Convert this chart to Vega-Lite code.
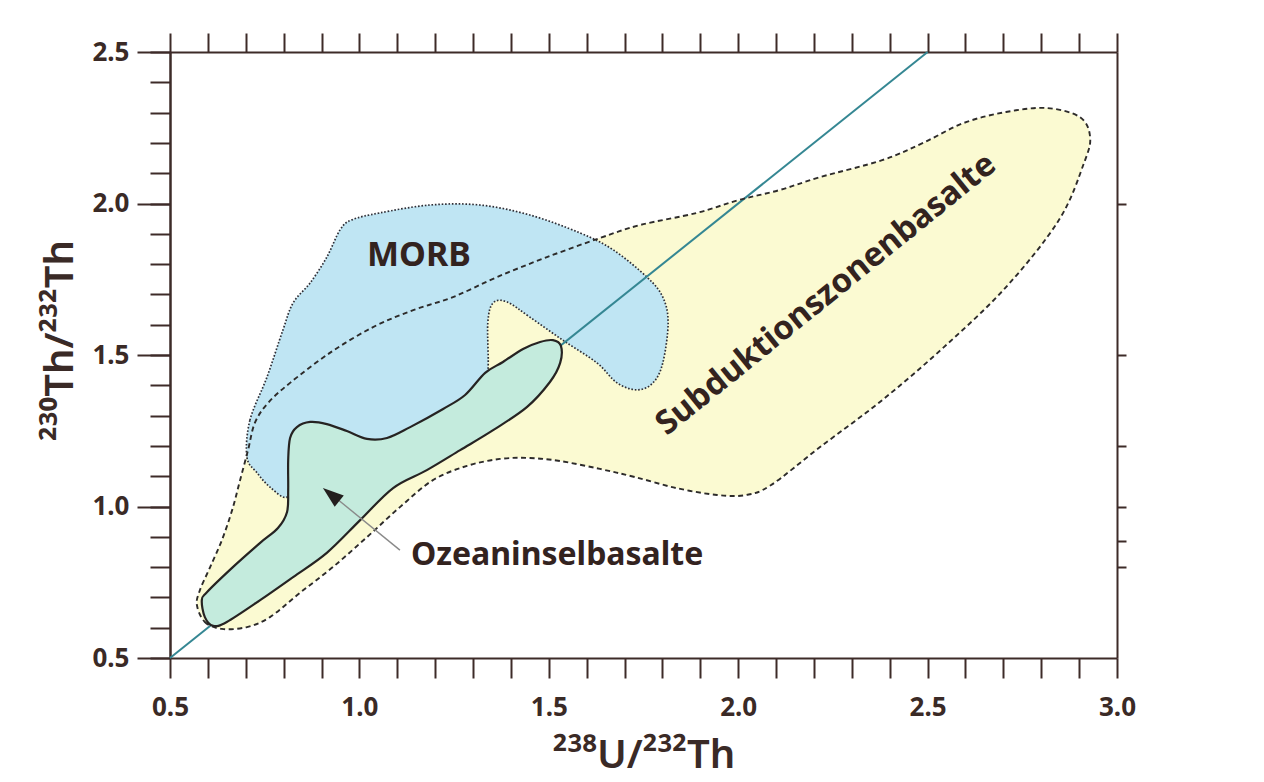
{
  "$schema": "https://vega.github.io/schema/vega-lite/v6.json",
  "width": 947,
  "height": 606,
  "autosize": {"type": "none"},
  "padding": {"left": 170, "top": 52, "right": 147, "bottom": 124},
  "background": "#ffffff",
  "config": {"view": {"stroke": null}, "font": "Noto Sans"},
  "datasets": {
    "sub": [
      {"i":1,"x":0.571,"y":0.675},{"i":2,"x":0.592,"y":0.619},{"i":3,"x":0.637,"y":0.596},{"i":4,"x":0.703,"y":0.602},
      {"i":5,"x":0.764,"y":0.635},{"i":6,"x":0.843,"y":0.715},{"i":7,"x":0.930,"y":0.800},{"i":8,"x":1.020,"y":0.899},
      {"i":9,"x":1.107,"y":0.998},{"i":10,"x":1.194,"y":1.087},{"i":11,"x":1.284,"y":1.134},{"i":12,"x":1.371,"y":1.157},
      {"i":13,"x":1.450,"y":1.160},{"i":14,"x":1.530,"y":1.150},{"i":15,"x":1.635,"y":1.124},{"i":16,"x":1.728,"y":1.097},
      {"i":17,"x":1.836,"y":1.061},{"i":18,"x":1.944,"y":1.038},{"i":19,"x":2.021,"y":1.038},{"i":20,"x":2.087,"y":1.071},
      {"i":21,"x":2.216,"y":1.196},{"i":22,"x":2.380,"y":1.351},{"i":23,"x":2.543,"y":1.526},{"i":24,"x":2.707,"y":1.724},
      {"i":25,"x":2.847,"y":1.946},{"i":26,"x":2.913,"y":2.134},{"i":27,"x":2.929,"y":2.219},{"i":28,"x":2.902,"y":2.285},
      {"i":29,"x":2.815,"y":2.315},{"i":30,"x":2.707,"y":2.302},{"i":31,"x":2.596,"y":2.266},{"i":32,"x":2.488,"y":2.200},
      {"i":33,"x":2.380,"y":2.143},{"i":34,"x":2.216,"y":2.087},{"i":35,"x":2.108,"y":2.044},{"i":36,"x":2.000,"y":2.011},
      {"i":37,"x":1.891,"y":1.969},{"i":38,"x":1.741,"y":1.929},{"i":39,"x":1.635,"y":1.886},{"i":40,"x":1.495,"y":1.823},
      {"i":41,"x":1.363,"y":1.757},{"i":42,"x":1.247,"y":1.691},{"i":43,"x":1.142,"y":1.648},{"i":44,"x":1.036,"y":1.592},
      {"i":45,"x":0.922,"y":1.507},{"i":46,"x":0.817,"y":1.408},{"i":47,"x":0.759,"y":1.342},{"i":48,"x":0.724,"y":1.276},
      {"i":49,"x":0.706,"y":1.186},{"i":50,"x":0.685,"y":1.087},{"i":51,"x":0.664,"y":0.988},{"i":52,"x":0.637,"y":0.889},
      {"i":53,"x":0.606,"y":0.800},{"i":54,"x":0.579,"y":0.724}
    ],
    "morb": [
      {"i":1,"x":0.703,"y":1.163},{"i":2,"x":0.711,"y":1.285},{"i":3,"x":0.756,"y":1.427},{"i":4,"x":0.798,"y":1.582},
      {"i":5,"x":0.825,"y":1.672},{"i":6,"x":0.870,"y":1.738},{"i":7,"x":0.914,"y":1.823},{"i":8,"x":0.949,"y":1.913},
      {"i":9,"x":0.980,"y":1.946},{"i":10,"x":1.054,"y":1.969},{"i":11,"x":1.186,"y":1.995},{"i":12,"x":1.318,"y":1.995},
      {"i":13,"x":1.450,"y":1.962},{"i":14,"x":1.582,"y":1.903},{"i":15,"x":1.670,"y":1.847},{"i":16,"x":1.759,"y":1.757},
      {"i":17,"x":1.801,"y":1.691},{"i":18,"x":1.815,"y":1.606},{"i":19,"x":1.801,"y":1.474},{"i":20,"x":1.775,"y":1.408},
      {"i":21,"x":1.733,"y":1.385},{"i":22,"x":1.680,"y":1.408},{"i":23,"x":1.627,"y":1.474},{"i":24,"x":1.537,"y":1.549},
      {"i":25,"x":1.450,"y":1.625},{"i":26,"x":1.390,"y":1.675},{"i":27,"x":1.353,"y":1.672},{"i":28,"x":1.339,"y":1.606},
      {"i":29,"x":1.339,"y":1.444},{"i":30,"x":1.318,"y":1.351},{"i":31,"x":1.160,"y":1.219},{"i":32,"x":0.975,"y":1.153},
      {"i":33,"x":0.843,"y":1.104},{"i":34,"x":0.809,"y":1.031},{"i":35,"x":0.764,"y":1.064},{"i":36,"x":0.730,"y":1.111}
    ],
    "oib": [
      {"i":1,"x":0.584,"y":0.691},{"i":2,"x":0.598,"y":0.718},{"i":3,"x":0.666,"y":0.800},{"i":4,"x":0.738,"y":0.880},
      {"i":5,"x":0.785,"y":0.929},{"i":6,"x":0.809,"y":0.982},{"i":7,"x":0.812,"y":1.054},{"i":8,"x":0.812,"y":1.153},
      {"i":9,"x":0.817,"y":1.226},{"i":10,"x":0.835,"y":1.262},{"i":11,"x":0.870,"y":1.279},{"i":12,"x":0.914,"y":1.272},
      {"i":13,"x":0.967,"y":1.249},{"i":14,"x":1.020,"y":1.223},{"i":15,"x":1.073,"y":1.226},{"i":16,"x":1.134,"y":1.262},
      {"i":17,"x":1.221,"y":1.322},{"i":18,"x":1.279,"y":1.368},{"i":19,"x":1.332,"y":1.441},{"i":20,"x":1.379,"y":1.477},
      {"i":21,"x":1.432,"y":1.520},{"i":22,"x":1.477,"y":1.543},{"i":23,"x":1.511,"y":1.549},{"i":24,"x":1.532,"y":1.530},
      {"i":25,"x":1.530,"y":1.474},{"i":26,"x":1.503,"y":1.411},{"i":27,"x":1.442,"y":1.328},{"i":28,"x":1.353,"y":1.252},
      {"i":29,"x":1.266,"y":1.186},{"i":30,"x":1.178,"y":1.120},{"i":31,"x":1.089,"y":1.061},{"i":32,"x":1.002,"y":0.955},
      {"i":33,"x":0.914,"y":0.847},{"i":34,"x":0.825,"y":0.767},{"i":35,"x":0.738,"y":0.691},{"i":36,"x":0.650,"y":0.619},
      {"i":37,"x":0.614,"y":0.606},{"i":38,"x":0.592,"y":0.635}
    ],
    "equiline": [{"x":0.5,"y":0.5},{"x":2.5,"y":2.5}],
    "arrow": [{"x":1.107,"y":0.856},{"x":0.938,"y":1.028}],
    "arrowhead": [{"x":0.9306,"y":1.034}],
    "morbLabel": [{"x":1.157,"y":1.828,"label":"MORB"}],
    "subLabel": [{"x":2.232,"y":1.700,"label":"Subduktionszonenbasalte"}],
    "oibLabel": [{"x":1.136,"y":0.807,"label":"Ozeaninselbasalte"}]
  },
  "layer": [
    {
      "data": {"name": "sub"},
      "mark": {"type": "line", "interpolate": "cardinal-closed", "fill": "#fbfad2", "strokeOpacity": 0},
      "encoding": {
        "x": {"field": "x", "type": "quantitative", "scale": {"domain": [0.5, 3.0], "nice": false, "zero": false},
          "axis": {"orient": "bottom", "grid": false,
            "values": [0.5,0.6,0.7,0.8,0.9,1.0,1.1,1.2,1.3,1.4,1.5,1.6,1.7,1.8,1.9,2.0,2.1,2.2,2.3,2.4,2.5,2.6,2.7,2.8,2.9,3.0],
            "tickSize": 20, "tickWidth": 2, "tickColor": "#3d2b28", "domainColor": "#3d2b28", "domainWidth": 2,
            "labelExpr": "round(datum.value*10) % 5 == 0 ? format(datum.value, '.1f') : ''",
            "labelFont": "Noto Sans", "labelFontSize": 26, "labelFontWeight": "bold", "labelColor": "#3a2a26",
            "labelPadding": 16, "labelOverlap": false, "labelFlush": false, "labelBound": false,
            "title": "²³⁸U/²³²Th", "titleFont": "Noto Sans", "titleFontSize": 40, "titleFontWeight": 600,
            "titleColor": "#3a2a26", "titleY": 109, "titleBaseline": "alphabetic"}},
        "y": {"field": "y", "type": "quantitative", "scale": {"domain": [0.5, 2.5], "nice": false, "zero": false},
          "axis": {"orient": "left", "grid": false, "values": [0.5, 1.0, 1.5, 2.0, 2.5], "format": ".1f",
            "tickSize": 33, "tickWidth": 2, "tickColor": "#3d2b28", "domainColor": "#3d2b28", "domainWidth": 2,
            "labelFont": "Noto Sans", "labelFontSize": 26, "labelFontWeight": "bold", "labelColor": "#3a2a26",
            "labelPadding": 8, "labelOverlap": false, "labelFlush": false, "labelBound": false,
            "title": "²³⁰Th/²³²Th", "titleFont": "Noto Sans", "titleFontSize": 40, "titleFontWeight": 600,
            "titleColor": "#3a2a26", "titleAngle": 270, "titleX": -98, "titleY": 288, "titleBaseline": "alphabetic", "titleAlign": "center"}},
        "order": {"field": "i", "type": "quantitative"}
      }
    },
    {
      "data": {"name": "morb"},
      "mark": {"type": "line", "interpolate": "cardinal-closed", "fill": "#bfe5f3", "stroke": "#2e2e36", "strokeWidth": 1.7, "strokeDash": [1.6, 1.8]},
      "encoding": {
        "x": {"field": "x", "type": "quantitative", "scale": {"domain": [0.5, 3.0], "nice": false, "zero": false},
          "axis": {"orient": "top", "grid": false,
            "values": [0.5,0.6,0.7,0.8,0.9,1.0,1.1,1.2,1.3,1.4,1.5,1.6,1.7,1.8,1.9,2.0,2.1,2.2,2.3,2.4,2.5,2.6,2.7,2.8,2.9,3.0],
            "tickSize": 19, "tickWidth": 2, "tickColor": "#3d2b28", "domainColor": "#3d2b28", "domainWidth": 2,
            "labels": false, "title": null}},
        "y": {"field": "y", "type": "quantitative", "scale": {"domain": [0.5, 2.5], "nice": false, "zero": false},
          "axis": {"orient": "left", "grid": false,
            "values": [0.5,0.6,0.7,0.8,0.9,1.0,1.1,1.2,1.3,1.4,1.5,1.6,1.7,1.8,1.9,2.0,2.1,2.2,2.3,2.4,2.5],
            "tickSize": 20, "tickWidth": 2, "tickColor": "#3d2b28", "domainColor": "#3d2b28", "domainWidth": 2,
            "labels": false, "title": null}},
        "order": {"field": "i", "type": "quantitative"}
      }
    },
    {
      "data": {"name": "equiline"},
      "mark": {"type": "line", "color": "#358793", "strokeWidth": 2},
      "encoding": {
        "x": {"field": "x", "type": "quantitative", "scale": {"domain": [0.5, 3.0], "nice": false, "zero": false}, "axis": null},
        "y": {"field": "y", "type": "quantitative", "scale": {"domain": [0.5, 2.5], "nice": false, "zero": false},
          "axis": {"orient": "right", "grid": false, "values": [0.8, 0.885, 1.0, 1.2, 1.5, 2.0],
            "tickSize": 9, "tickWidth": 2, "tickColor": "#3d2b28", "domainColor": "#3d2b28", "domainWidth": 2,
            "labels": false, "title": null}}
      }
    },
    {
      "data": {"name": "sub"},
      "mark": {"type": "line", "interpolate": "cardinal-closed", "stroke": "#2d2b2a", "strokeWidth": 1.9, "strokeDash": [5, 3.5]},
      "encoding": {
        "x": {"field": "x", "type": "quantitative", "scale": {"domain": [0.5, 3.0], "nice": false, "zero": false}, "axis": null},
        "y": {"field": "y", "type": "quantitative", "scale": {"domain": [0.5, 2.5], "nice": false, "zero": false}, "axis": null},
        "order": {"field": "i", "type": "quantitative"}
      }
    },
    {
      "data": {"name": "oib"},
      "mark": {"type": "line", "interpolate": "cardinal-closed", "fill": "#c4ebdd", "stroke": "#262322", "strokeWidth": 2.2},
      "encoding": {
        "x": {"field": "x", "type": "quantitative", "scale": {"domain": [0.5, 3.0], "nice": false, "zero": false}, "axis": null},
        "y": {"field": "y", "type": "quantitative", "scale": {"domain": [0.5, 2.5], "nice": false, "zero": false}, "axis": null},
        "order": {"field": "i", "type": "quantitative"}
      }
    },
    {
      "data": {"name": "arrow"},
      "mark": {"type": "line", "color": "#8a8a8a", "strokeWidth": 1.4},
      "encoding": {
        "x": {"field": "x", "type": "quantitative", "scale": {"domain": [0.5, 3.0], "nice": false, "zero": false}, "axis": null},
        "y": {"field": "y", "type": "quantitative", "scale": {"domain": [0.5, 2.5], "nice": false, "zero": false}, "axis": null}
      }
    },
    {
      "data": {"name": "arrowhead"},
      "mark": {"type": "point", "shape": "M0,-1L0.55,0.6L-0.55,0.6Z", "filled": true, "color": "#231f1e", "opacity": 1, "size": 690, "angle": -51},
      "encoding": {
        "x": {"field": "x", "type": "quantitative", "scale": {"domain": [0.5, 3.0], "nice": false, "zero": false}, "axis": null},
        "y": {"field": "y", "type": "quantitative", "scale": {"domain": [0.5, 2.5], "nice": false, "zero": false}, "axis": null}
      }
    },
    {
      "data": {"name": "morbLabel"},
      "mark": {"type": "text", "font": "Noto Sans", "fontSize": 34, "fontWeight": "bold", "color": "#33231f", "align": "center", "baseline": "middle"},
      "encoding": {
        "x": {"field": "x", "type": "quantitative", "scale": {"domain": [0.5, 3.0], "nice": false, "zero": false}, "axis": null},
        "y": {"field": "y", "type": "quantitative", "scale": {"domain": [0.5, 2.5], "nice": false, "zero": false}, "axis": null},
        "text": {"field": "label"}
      }
    },
    {
      "data": {"name": "subLabel"},
      "mark": {"type": "text", "font": "Noto Sans", "fontSize": 33, "fontWeight": "bold", "color": "#33231f", "align": "center", "baseline": "middle", "angle": -39},
      "encoding": {
        "x": {"field": "x", "type": "quantitative", "scale": {"domain": [0.5, 3.0], "nice": false, "zero": false}, "axis": null},
        "y": {"field": "y", "type": "quantitative", "scale": {"domain": [0.5, 2.5], "nice": false, "zero": false}, "axis": null},
        "text": {"field": "label"}
      }
    },
    {
      "data": {"name": "oibLabel"},
      "mark": {"type": "text", "font": "Noto Sans", "fontSize": 32, "fontWeight": "bold", "color": "#33231f", "align": "left", "baseline": "alphabetic"},
      "encoding": {
        "x": {"field": "x", "type": "quantitative", "scale": {"domain": [0.5, 3.0], "nice": false, "zero": false}, "axis": null},
        "y": {"field": "y", "type": "quantitative", "scale": {"domain": [0.5, 2.5], "nice": false, "zero": false}, "axis": null},
        "text": {"field": "label"}
      }
    }
  ],
  "resolve": {"axis": {"x": "independent", "y": "independent"}}
}
